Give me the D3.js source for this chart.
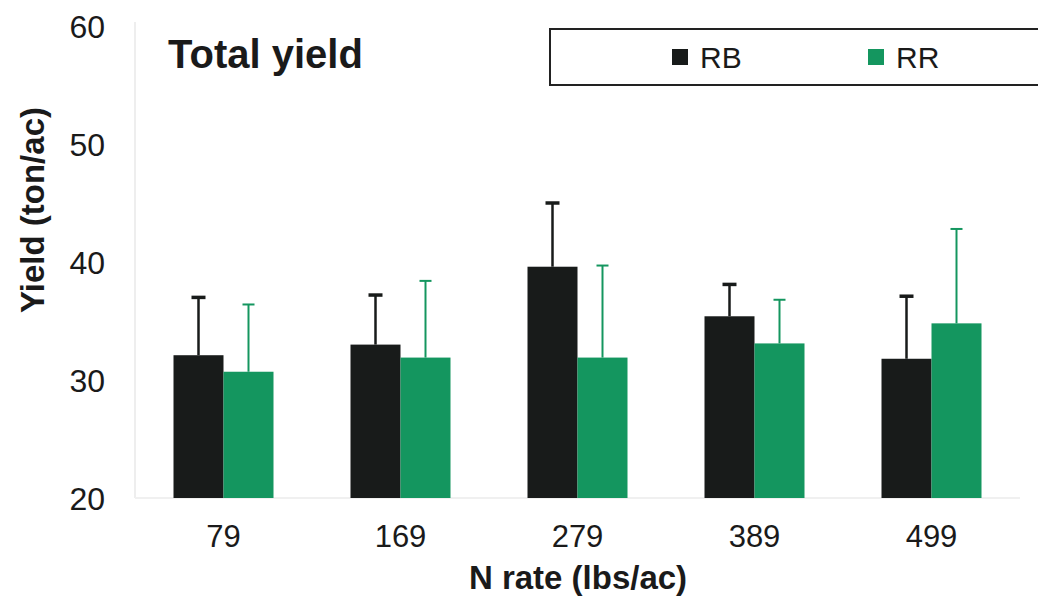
<!DOCTYPE html>
<html>
<head>
<meta charset="utf-8">
<script src="https://cdn.jsdelivr.net/npm/d3@7"></script>
<style>
  body { margin: 0; background: #fff; }
  svg text { font-family: "Liberation Sans", Arial, sans-serif; fill: #1a1a1a; }
</style>
</head>
<body>
<div id="chart"></div>
<script>
// N rates (lbs/ac)
const categories = ["79", "169", "279", "389", "499"];
const seriesNames = ["RB", "RR"];
// mean yield (ton/ac)
const rbValues = [32.1, 33.0, 39.6, 35.4, 31.8];
const rrValues = [30.7, 31.9, 31.9, 33.1, 34.8];
// upper error bar end (ton/ac)
const rbErrTop = [37.0, 37.2, 45.0, 38.1, 37.1];
const rrErrTop = [36.4, 38.4, 39.7, 36.8, 42.8];
const yTicks = [20, 30, 40, 50, 60];

const colors = { RB: "#181b1a", RR: "#14965f" };

const width = 1038, height = 600;
const margin = { top: 26, right: 18, bottom: 102, left: 135 };
const innerW = width - margin.left - margin.right;
const innerH = height - margin.top - margin.bottom;

const svg = d3.select("#chart").append("svg")
    .attr("width", width)
    .attr("height", height);

const g = svg.append("g")
    .attr("transform", `translate(${margin.left},${margin.top})`);

const x = d3.scaleBand().domain(categories).range([0, innerW]).padding(0);
const xSub = d3.scaleBand().domain(seriesNames).range([x.bandwidth() / 2 - 50, x.bandwidth() / 2 + 50]);
const y = d3.scaleLinear().domain([20, 60]).range([innerH, 0]);

// faint axis frame
g.append("line")
    .attr("x1", 0).attr("x2", 0).attr("y1", -4).attr("y2", innerH)
    .attr("stroke", "#eeeeee").attr("stroke-width", 2);
g.append("line")
    .attr("x1", 0).attr("x2", innerW).attr("y1", innerH).attr("y2", innerH)
    .attr("stroke", "#f0f0f0").attr("stroke-width", 2);

// y axis labels
const yAxis = g.append("g")
    .call(d3.axisLeft(y).tickValues(yTicks).tickSize(0).tickPadding(30));
yAxis.select(".domain").remove();
yAxis.selectAll("text").style("font-size", "32px").attr("dy", "0.36em");

// x axis labels
const xAxis = g.append("g")
    .attr("transform", `translate(0,${innerH})`)
    .call(d3.axisBottom(x).tickSize(0).tickPadding(0));
xAxis.select(".domain").remove();
xAxis.selectAll("text").style("font-size", "31px").attr("dy", null).attr("y", 49);

const rows = categories.map((c, i) => ({
    cat: c,
    items: [
        { name: "RB", value: rbValues[i], top: rbErrTop[i] },
        { name: "RR", value: rrValues[i], top: rrErrTop[i] }
    ]
}));

const groups = g.selectAll(".grp")
    .data(rows)
    .enter().append("g")
    .attr("class", "grp")
    .attr("transform", d => `translate(${x(d.cat)},0)`);

// error bars (drawn behind bars)
groups.selectAll(".err")
    .data(d => d.items)
    .enter().append("line")
    .attr("x1", d => xSub(d.name) + xSub.bandwidth() / 2)
    .attr("x2", d => xSub(d.name) + xSub.bandwidth() / 2)
    .attr("y1", d => y(d.value))
    .attr("y2", d => y(d.top))
    .attr("stroke", d => colors[d.name])
    .attr("stroke-width", d => d.name === "RB" ? 2.5 : 2);

groups.selectAll(".cap")
    .data(d => d.items)
    .enter().append("line")
    .attr("x1", d => xSub(d.name) + xSub.bandwidth() / 2 - (d.name === "RB" ? 7 : 6))
    .attr("x2", d => xSub(d.name) + xSub.bandwidth() / 2 + (d.name === "RB" ? 7 : 6))
    .attr("y1", d => y(d.top))
    .attr("y2", d => y(d.top))
    .attr("stroke", d => colors[d.name])
    .attr("stroke-width", d => d.name === "RB" ? 3.5 : 2);

groups.selectAll(".bar")
    .data(d => d.items)
    .enter().append("rect")
    .attr("class", "bar")
    .attr("x", d => xSub(d.name))
    .attr("width", xSub.bandwidth())
    .attr("y", d => y(d.value))
    .attr("height", d => y(20) - y(d.value))
    .attr("fill", d => colors[d.name]);

// title
svg.append("text")
    .attr("x", 168).attr("y", 68)
    .style("font-size", "40px").style("font-weight", "bold")
    .text("Total yield");

// legend box
svg.append("rect")
    .attr("x", 550).attr("y", 29)
    .attr("width", 520).attr("height", 56)
    .attr("fill", "none").attr("stroke", "#222").attr("stroke-width", 2);

const legendX = { RB: 672, RR: 868 };
seriesNames.forEach(name => {
    svg.append("rect")
        .attr("x", legendX[name]).attr("y", 49)
        .attr("width", 16).attr("height", 16)
        .attr("fill", colors[name]);
    svg.append("text")
        .attr("x", legendX[name] + 28).attr("y", 68)
        .style("font-size", "30px")
        .text(name);
});

// axis titles
svg.append("text")
    .attr("transform", "translate(44,210) rotate(-90)")
    .attr("text-anchor", "middle")
    .style("font-size", "33px").style("font-weight", "bold")
    .text("Yield (ton/ac)");

svg.append("text")
    .attr("x", 578).attr("y", 589)
    .attr("text-anchor", "middle")
    .style("font-size", "33px").style("font-weight", "bold")
    .text("N rate (lbs/ac)");
</script>
</body>
</html>
